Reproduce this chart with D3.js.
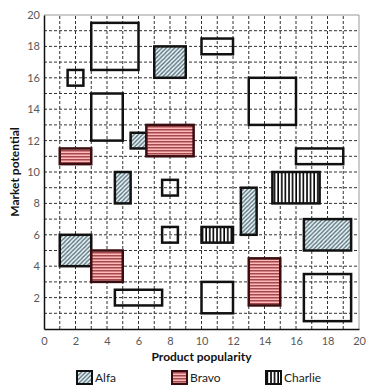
<!DOCTYPE html>
<html><head><meta charset="utf-8">
<script src="https://cdn.jsdelivr.net/npm/d3@7"></script>
<style>html,body{margin:0;padding:0;background:#fff;}svg{display:block;}</style>
</head><body>
<svg id="chart" width="383" height="391"></svg>
<script>
// ---- data ----
const seriesNames = ["Alfa", "Bravo", "Charlie"];
const xTicks = [0, 2, 4, 6, 8, 10, 12, 14, 16, 18, 20];
const yTicks = [2, 4, 6, 8, 10, 12, 14, 16, 18, 20];
// rectangles: series ("" = unfilled outline)
const rectSeries = ["", "", "Alfa", "", "Alfa", "Bravo", "Bravo", "Alfa", "", "", "", "Charlie",
                    "", "", "Alfa", "Bravo", "", "Alfa", "Charlie", "Alfa", "Bravo", "", ""];
const rectX0 = [3, 1.5, 7, 3, 5.5, 6.5, 1, 4.5, 10, 13, 16, 14.5, 7.5, 7.5, 1, 3, 4.5, 12.5, 10, 16.5, 13, 10, 16.5];
const rectX1 = [6, 2.5, 9, 5, 6.5, 9.5, 3, 5.5, 12, 16, 19, 17.5, 8.5, 8.5, 3, 5, 7.5, 13.5, 12, 19.5, 15, 12, 19.5];
const rectY0 = [16.5, 15.5, 16, 12, 11.5, 11, 10.5, 8, 17.5, 13, 10.5, 8, 8.5, 5.5, 4, 3, 1.5, 6, 5.5, 5, 1.5, 1, 0.5];
const rectY1 = [19.5, 16.5, 18, 15, 12.5, 13, 11.5, 10, 18.5, 16, 11.5, 10, 9.5, 6.5, 6, 5, 2.5, 9, 6.5, 7, 4.5, 3, 3.5];

// ---- layout ----
const svg = d3.select("#chart");
const font = "Lato, 'Open Sans', sans-serif";
const x = d3.scaleLinear().domain([0, 20]).range([44, 359]);
const y = d3.scaleLinear().domain([0, 20]).range([329, 15]);

// patterns
const defs = svg.append("defs");
function pattern(id, size, bg, draw) {
  const p = defs.append("pattern").attr("id", id).attr("patternUnits", "userSpaceOnUse")
    .attr("width", size).attr("height", size);
  p.append("rect").attr("width", size).attr("height", size).attr("fill", bg);
  draw(p, size);
}
pattern("pAlfa", 4.2, "#e2f5fa", (p, s) => {
  p.append("path").attr("d", `M0,${s} L${s},0 M${-s/2},${s/2} L${s/2},${-s/2} M${s/2},${s*1.5} L${s*1.5},${s/2}`)
    .attr("stroke", "#5c6a72").attr("stroke-width", 1.3);
});
pattern("pBravo", 3, "#ffb9b9", (p, s) => {
  p.append("line").attr("x1", 0).attr("x2", s).attr("y1", 0.8).attr("y2", 0.8)
    .attr("stroke", "#8e2d33").attr("stroke-width", 1.2);
});
pattern("pCharlie", 3.6, "#ffffff", (p, s) => {
  p.append("line").attr("y1", 0).attr("y2", s).attr("x1", 1).attr("x2", 1)
    .attr("stroke", "#000").attr("stroke-width", 1.6);
});
const fillFor = s => s === "Alfa" ? "url(#pAlfa)" : s === "Bravo" ? "url(#pBravo)" : s === "Charlie" ? "url(#pCharlie)" : "none";
const strokeFor = s => s === "Bravo" ? "#3a0e10" : "#111";

// grid
const grid = svg.append("g");
d3.range(1, 20).forEach(v => {
  grid.append("line").attr("x1", x(v)).attr("x2", x(v)).attr("y1", y(0)).attr("y2", y(20))
    .attr("stroke", "#333").attr("stroke-width", 1).attr("stroke-dasharray", "3,2");
  grid.append("line").attr("x1", x(0)).attr("x2", x(20)).attr("y1", y(v)).attr("y2", y(v))
    .attr("stroke", "#333").attr("stroke-width", 1).attr("stroke-dasharray", "3,2");
});
// frame top/right
svg.append("path").attr("d", `M${x(0)},${y(20)} H${x(20)} V${y(0)}`)
  .attr("fill", "none").attr("stroke", "#999").attr("stroke-width", 1);

// rectangles
const data = rectSeries.map((s, i) => ({ s, x0: rectX0[i], x1: rectX1[i], y0: rectY0[i], y1: rectY1[i] }));
svg.append("g").selectAll("rect").data(data).join("rect")
  .attr("x", d => x(d.x0)).attr("y", d => y(d.y1))
  .attr("width", d => x(d.x1) - x(d.x0)).attr("height", d => y(d.y0) - y(d.y1))
  .attr("fill", d => fillFor(d.s)).attr("stroke", d => strokeFor(d.s)).attr("stroke-width", 2.5);

// axes
const xAxis = svg.append("g").attr("transform", `translate(0,${y(0)})`)
  .call(d3.axisBottom(x).tickValues(xTicks).tickSize(0).tickPadding(8));
const yAxis = svg.append("g").attr("transform", `translate(${x(0)},0)`)
  .call(d3.axisLeft(y).tickValues(yTicks).tickSize(0).tickPadding(4));
[xAxis, yAxis].forEach(a => {
  a.select(".domain").attr("stroke", "#111").attr("stroke-width", 1.5);
  a.selectAll("text").attr("fill", "#595959").style("font-family", font).style("font-size", "11px");
});

// axis titles
svg.append("text").attr("x", (x(0) + x(20)) / 2).attr("y", 361).attr("text-anchor", "middle")
  .style("font-family", font).style("font-weight", "bold").style("font-size", "12px").attr("fill", "#111")
  .text("Product popularity");
svg.append("text").attr("transform", `translate(19,${(y(0) + y(20)) / 2}) rotate(-90)`).attr("text-anchor", "middle")
  .style("font-family", font).style("font-weight", "bold").style("font-size", "12px").attr("fill", "#111")
  .text("Market potential");

// legend
const legendX = [77, 172, 266];
const lg = svg.append("g");
seriesNames.forEach((n, i) => {
  lg.append("rect").attr("x", legendX[i]).attr("y", 371).attr("width", 15).attr("height", 13)
    .attr("fill", fillFor(n)).attr("stroke", strokeFor(n)).attr("stroke-width", 2);
  lg.append("text").attr("x", legendX[i] + 18).attr("y", 382)
    .style("font-family", font).style("font-size", "12px").attr("fill", "#222").text(n);
});
</script>
</body></html>
